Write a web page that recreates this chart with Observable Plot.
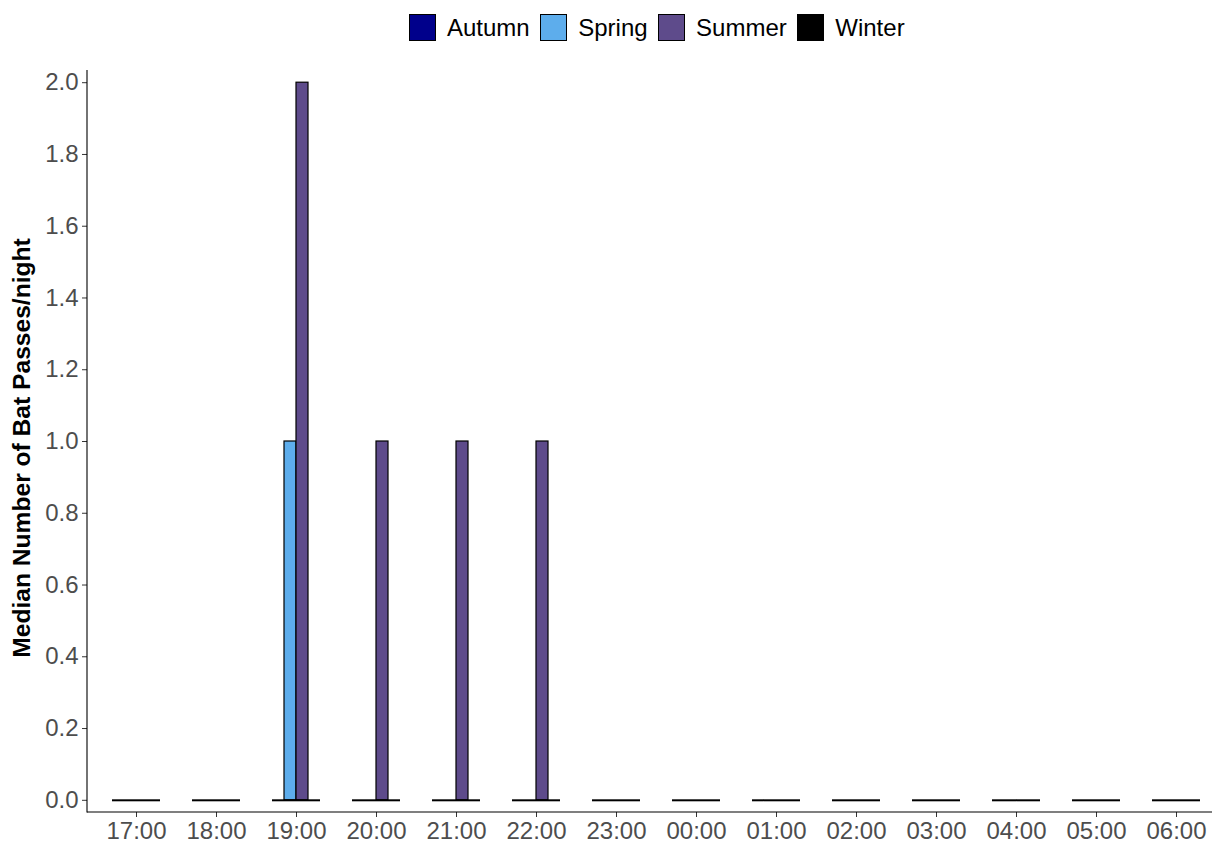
<!DOCTYPE html>
<html>
<head>
<meta charset="utf-8">
<script src="https://cdn.jsdelivr.net/npm/d3@7"></script>
<script src="https://cdn.jsdelivr.net/npm/@observablehq/plot@0.6"></script>
<style>
  body { margin: 0; background: #fff; font-family: "Liberation Sans", Arial, sans-serif; }
  #wrap { position: relative; width: 1212px; height: 843px; overflow: hidden; }
  #legend { position: absolute; left: 409px; top: 14px; height: 27px; display: flex; align-items: center; font-size: 24px; color: #000; white-space: nowrap; }
  .item { display: flex; align-items: center; margin-right: 10.5px; }
  .sw { width: 27px; height: 27px; box-sizing: border-box; border: 1.2px solid #000; margin-right: 11px; }
  #ytitle { position: absolute; left: 22px; top: 448px; transform: translate(-50%, -50%) rotate(-90deg); font-size: 24.6px; font-weight: bold; color: #000; white-space: nowrap; }
  #chart { position: absolute; left: 0; top: 0; }
  g[aria-label="y-axis tick"] path, g[aria-label="fx-axis tick"] path { stroke: #333; }
</style>
</head>
<body>
<div id="wrap">
  <div id="chart"></div>
  <div id="legend"></div>
  <div id="ytitle">Median Number of Bat Passes/night</div>
</div>
<script>
const hours = ["17:00","18:00","19:00","20:00","21:00","22:00","23:00","00:00","01:00","02:00","03:00","04:00","05:00","06:00"];
const seasons = ["Autumn","Spring","Summer","Winter"];
const seasonColors = ["#00008B","#5DADEC","#5E4B8B","#000000"];
const autumn = [0,0,0,0,0,0,0,0,0,0,0,0,0,0];
const spring = [0,0,1,0,0,0,0,0,0,0,0,0,0,0];
const summer = [0,0,2,1,1,1,0,0,0,0,0,0,0,0];
const winter = [0,0,0,0,0,0,0,0,0,0,0,0,0,0];
const yTicks = [0,0.2,0.4,0.6,0.8,1.0,1.2,1.4,1.6,1.8,2.0];

const series = {Autumn: autumn, Spring: spring, Summer: summer, Winter: winter};
const rows = [];
hours.forEach((h, i) => seasons.forEach(s => rows.push({hour: h, season: s, value: series[s][i]})));

const marginLeft = 87;
function makePlot(axisDx) {
  return Plot.plot({
    width: 1212,
    height: 843,
    marginLeft,
    marginRight: 0,
    marginTop: 70,
    marginBottom: 31,
    style: {fontFamily: '"Liberation Sans", Arial, sans-serif', fontSize: "24px", background: "white"},
    fx: {domain: hours, paddingInner: 0.4, paddingOuter: 0.22, align: 0.68, label: null},
    x: {domain: seasons, padding: 0, axis: null},
    y: {domain: [-0.034, 2.034], axis: null},
    color: {domain: seasons, range: seasonColors},
    marks: [
      Plot.barY(rows.filter(d => d.value > 0), {fx: "hour", x: "season", y1: 0, y2: "value", fill: "season", stroke: "black", strokeWidth: 1.2}),
      Plot.tickY(rows, {fx: "hour", x: "season", y: d => 0, stroke: "black", strokeWidth: 2}),
      Plot.axisY({ticks: yTicks, tickFormat: d3.format(".1f"), tickSize: 5, tickPadding: 4, fontSize: 24, color: "#4D4D4D", label: null, dx: axisDx}),
      Plot.axisFx({anchor: "bottom", tickSize: 5, tickPadding: 4, fontSize: 24, color: "#4D4D4D", label: null})
    ]
  });
}

// the y axis is drawn in the first facet; shift it back to the panel's left edge
const probe = makePlot(0);
const firstFacetLeft = probe.scale("fx").apply(hours[0]);
const plot = makePlot(marginLeft - firstFacetLeft);

document.getElementById("chart").appendChild(plot);

// axis lines (ggplot classic theme)
const y = plot.scale("y");
const svg = d3.select(plot);
const y0 = y.apply(-0.034), y1 = y.apply(2.034);
svg.append("line").attr("x1", marginLeft).attr("x2", 1212).attr("y1", y0).attr("y2", y0).attr("stroke", "#000").attr("stroke-width", 1.1);
svg.append("line").attr("x1", marginLeft).attr("x2", marginLeft).attr("y1", y1).attr("y2", y0 + 0.5).attr("stroke", "#000").attr("stroke-width", 1.1);

// legend
const legend = d3.select("#legend");
seasons.forEach((s, i) => {
  const it = legend.append("div").attr("class", "item");
  it.append("div").attr("class", "sw").style("background", seasonColors[i]);
  it.append("span").text(s);
});
</script>
</body>
</html>
